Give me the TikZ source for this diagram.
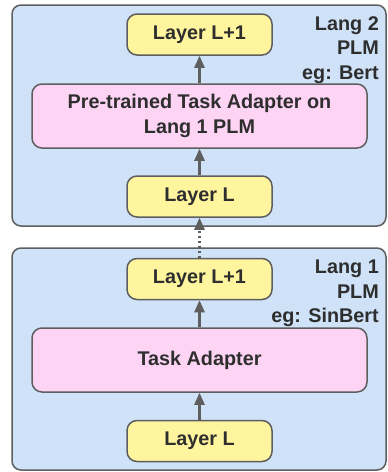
\documentclass[tikz,border=0pt]{standalone}
\usepackage{fontspec}
\setmainfont{Liberation Sans}
\usetikzlibrary{positioning, arrows.meta}
\definecolor{plmblue}{HTML}{CFE2F7}
\definecolor{layeryellow}{HTML}{FFF59E}
\definecolor{adapterpink}{HTML}{FDD4F4}
\definecolor{edgegray}{HTML}{5E5E5E}
\definecolor{textgray}{HTML}{2E2E2E}
\tikzset{
	plmbox/.style={draw=edgegray, line width=1.5pt, fill=plmblue, rounded corners=9pt},
	layerbox/.style={draw=edgegray, line width=1.5pt, fill=layeryellow, rounded corners=10pt,
		minimum width=145pt, minimum height=41pt, inner sep=0pt},
	adapterbox/.style={draw=edgegray, line width=1.5pt, fill=adapterpink, rounded corners=10pt,
		minimum width=335pt, minimum height=64pt, inner sep=0pt, align=center},
	plmlabel/.style={anchor=north east, align=right, inner sep=0pt},
	flow/.style={draw=edgegray, line width=2.5pt, -{Triangle[length=12pt,width=10pt]}},
}

\begin{document}
\begin{tikzpicture}[x=1pt, y=-1pt, text=textgray, font=\bfseries\fontsize{19.8}{24.5}\selectfont]
	\useasboundingbox (0,0) rectangle (388,472);

	% Lang 2 PLM
	\draw[plmbox] (12,5) rectangle (386,226);
	\node[plmlabel] (lab2) at (379,16) {Lang 2\\PLM\\eg: Bert};
	\node[layerbox] (t1) at (199.5,34.5) {Layer L+1};
	\node[adapterbox] (ta) at (199.5,116) {Pre-trained Task Adapter on\\Lang 1 PLM};
	\node[layerbox] (t0) at (199.5,196.5) {Layer L};

	% Lang 1 PLM
	\draw[plmbox] (12,248) rectangle (386,470);
	\node[plmlabel] (lab1) at (379,260) {Lang 1\\PLM\\eg: SinBert};
	\node[layerbox] (b1) at (199.5,279) {Layer L+1};
	\node[adapterbox] (ba) at (199.5,360) {Task Adapter};
	\node[layerbox] (b0) at (199.5,441) {Layer L};

	\draw[flow] (t0) -- (ta);
	\draw[flow] (ta) -- (t1);
	\draw[flow] (b0) -- (ba);
	\draw[flow] (ba) -- (b1);
	\draw[flow, dash pattern=on 2pt off 3pt] (b1) -- (t0);
\end{tikzpicture}
\end{document}
